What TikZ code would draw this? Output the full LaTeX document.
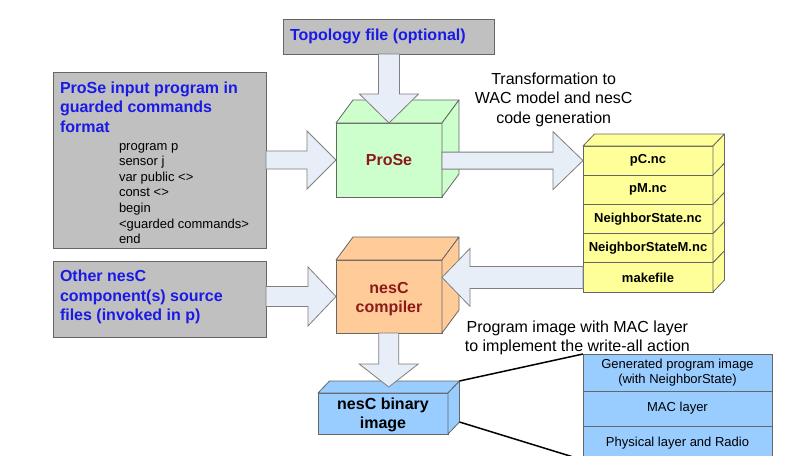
\documentclass[tikz,border=0pt]{standalone}
\usepackage{fontspec}
\setmainfont{Liberation Sans}
\usetikzlibrary{calc}
\definecolor{edge}{HTML}{666666}
\definecolor{grayfill}{HTML}{C0C0C0}
\definecolor{titleblue}{HTML}{1A1AE6}
\definecolor{darkred}{HTML}{8B1A1A}
\definecolor{arrowfill}{HTML}{E8EEF7}
\definecolor{arrowedge}{HTML}{7F7F7F}
\definecolor{greenfill}{HTML}{CCFFCC}
\definecolor{orangefill}{HTML}{FFCC99}
\definecolor{yellowfill}{HTML}{FFFF99}
\definecolor{bluefill}{HTML}{99CCFF}
\tikzset{
  every node/.style={outer sep=0pt},
  graybox/.style={draw=edge, fill=grayfill, line width=0.9pt, inner sep=0pt},
  front/.style={draw=edge, line width=0.8pt, inner sep=0pt, align=center},
  face/.style={draw=edge, line width=0.8pt, line join=round},
  barrow/.style={draw=arrowedge, fill=arrowfill, line width=0.8pt, line join=miter},
  bigtitle/.style={font=\fontsize{16}{19.7}\selectfont\bfseries, text=titleblue, inner sep=0pt, anchor=base west},
  codeline/.style={font=\fontsize{13}{15.6}\selectfont, inner sep=0pt, anchor=base west},
  plaintext/.style={font=\fontsize{16}{19.5}\selectfont, inner sep=0pt, anchor=base},
  filelabel/.style={font=\fontsize{13}{15}\selectfont\bfseries},
  layerlabel/.style={font=\fontsize{13}{14.5}\selectfont},
  zoomline/.style={draw=black, line width=1.5pt}
}
% top and right faces of a box whose front face is node #1
\newcommand{\cubefaces}[4]{%
  \path[face, fill=#4] (#1.north west) -- ++(#2,#3) -- ($(#1.north east)+(#2,#3)$) -- (#1.north east) -- cycle;
  \path[face, fill=#4] (#1.north east) -- ++(#2,#3) -- ($(#1.south east)+(#2,#3)$) -- (#1.south east) -- cycle;}
\newcommand{\sideface}[4]{%
  \path[face, fill=#4] (#1.north east) -- ++(#2,#3) -- ($(#1.south east)+(#2,#3)$) -- (#1.south east) -- cycle;}
% horizontal block arrow: from, tip, shaft half width, head half width, head length
\newcommand{\harrow}[5]{%
  \path[barrow] let \p1=(#1), \p2=(#2), \n1={\x2-(#5)*sign(\x2-\x1)} in
  (\x1,\y2+#3pt) -- (\n1,\y2+#3pt) -- (\n1,\y2+#4pt) -- (\x2,\y2)
  -- (\n1,\y2-#4pt) -- (\n1,\y2-#3pt) -- (\x1,\y2-#3pt) -- cycle;}
% vertical block arrow
\newcommand{\varrow}[5]{%
  \path[barrow] let \p1=(#1), \p2=(#2), \n1={\y2-(#5)*sign(\y2-\y1)} in
  (\x2+#3pt,\y1) -- (\x2+#3pt,\n1) -- (\x2+#4pt,\n1) -- (\x2,\y2)
  -- (\x2-#4pt,\n1) -- (\x2-#3pt,\n1) -- (\x2-#3pt,\y1) -- cycle;}
\begin{document}
\begin{tikzpicture}[x=1pt,y=-1pt]
\useasboundingbox (0,0) rectangle (808,455);
\clip (0,0) rectangle (808,455);
\fill[white] (0,0) rectangle (808,455);

% ---------- gray input boxes ----------
\node[graybox, minimum width=211pt, minimum height=35pt] (topo) at (388.5,36.5) {};
\node[bigtitle] (topotext) at (290,40.7) {Topology file (optional)};

\node[graybox, minimum width=213pt, minimum height=176pt] (input) at (159.5,160) {};
\foreach \t [count=\i] in {ProSe input program in, guarded commands, format}
  \node[bigtitle] (intitle\i) at (60,{93+(\i-1)*19.7}) {\t};
\foreach \t [count=\i] in {program p, sensor j, var public <>, const <>, begin, <guarded commands>, end}
  \node[codeline] (code\i) at (119,{150+(\i-1)*15.62}) {\t};

\node[graybox, minimum width=213pt, minimum height=76pt] (other) at (159.5,299) {};
\foreach \t [count=\i] in {Other nesC, component(s) source, files (invoked in p)}
  \node[bigtitle] (othertitle\i) at (60,{281.8+(\i-1)*19.5}) {\t};

% ---------- 3D boxes ----------
\node[front, fill=greenfill, minimum width=106pt, minimum height=74pt,
      font=\fontsize{16}{19}\selectfont\bfseries, text=darkred] (prose) at (389,160) {ProSe};
\cubefaces{prose}{17}{-23}{greenfill}

\node[front, fill=orangefill, minimum width=106pt, minimum height=73pt,
      font=\fontsize{16}{19}\selectfont\bfseries, text=darkred] (compiler) at (389,296.5) {\rule{0pt}{15.6pt}nesC\\compiler};
\cubefaces{compiler}{17}{-23}{orangefill}

\node[front, fill=bluefill, minimum width=130pt, minimum height=41pt,
      font=\fontsize{16}{18.5}\selectfont\bfseries] (binary) at (383,413.5) {\rule{0pt}{14.6pt}nesC binary\\image};
\cubefaces{binary}{11.5}{-12}{bluefill}

% ---------- generated files stack ----------
\foreach \t [count=\i] in {pC.nc, pM.nc, NeighborState.nc, NeighborStateM.nc, makefile}
  \node[front, filelabel, fill=yellowfill, minimum width=130pt, minimum height=29.2pt] (f\i) at (648,{146+(\i-0.5)*29.2}) {\t};
\path[face, fill=yellowfill] (f1.north west) -- ++(11.5,-12) -- ($(f1.north east)+(11.5,-12)$) -- (f1.north east) -- cycle;
\foreach \i in {1,...,5} { \sideface{f\i}{11.5}{-12}{yellowfill} }

% ---------- layers of the binary image ----------
\node[front, layerlabel, fill=bluefill, minimum width=189pt, minimum height=37pt] (t1) at (677.5,372.5) {Generated program image\\(with NeighborState)};
\node[front, layerlabel, fill=bluefill, minimum width=189pt, minimum height=35pt] (t2) at (677.5,408.5) {MAC layer};
\node[front, layerlabel, fill=bluefill, minimum width=189pt, minimum height=34pt] (t3) at (677.5,443) {Physical layer and Radio};

\draw[zoomline] ($(binary.north east)+(11.5,-12)$) -- (t1.north west);
\draw[zoomline] ($(binary.south east)+(11.5,-12)$) -- (t3.south west);

% ---------- block arrows ----------
\varrow{topo.south}{prose.north}{10.5}{29.5}{29}
\harrow{input.east}{prose.west}{9}{29}{29}
\harrow{prose.east}{f1.west}{8.5}{29}{30}
\harrow{f5.west}{compiler.east |- f5.west}{11}{29}{28}
\harrow{other.east}{compiler.west}{10}{29.5}{28}
\coordinate (bintop) at ($(binary.north)+(5.75,-6)$);
\varrow{compiler.south}{bintop}{10}{29.5}{23}

% ---------- free texts ----------
\foreach \t [count=\i] in {Transformation to, WAC model and nesC, code generation}
  \node[plaintext] (trans\i) at (553.7,{84+(\i-1)*19.7}) {\t};
\foreach \t [count=\i] in {Program image with MAC layer, to implement the write-all action}
  \node[plaintext] (prog\i) at (577.4,{332.3+(\i-1)*19.4}) {\t};
\end{tikzpicture}
\end{document}
